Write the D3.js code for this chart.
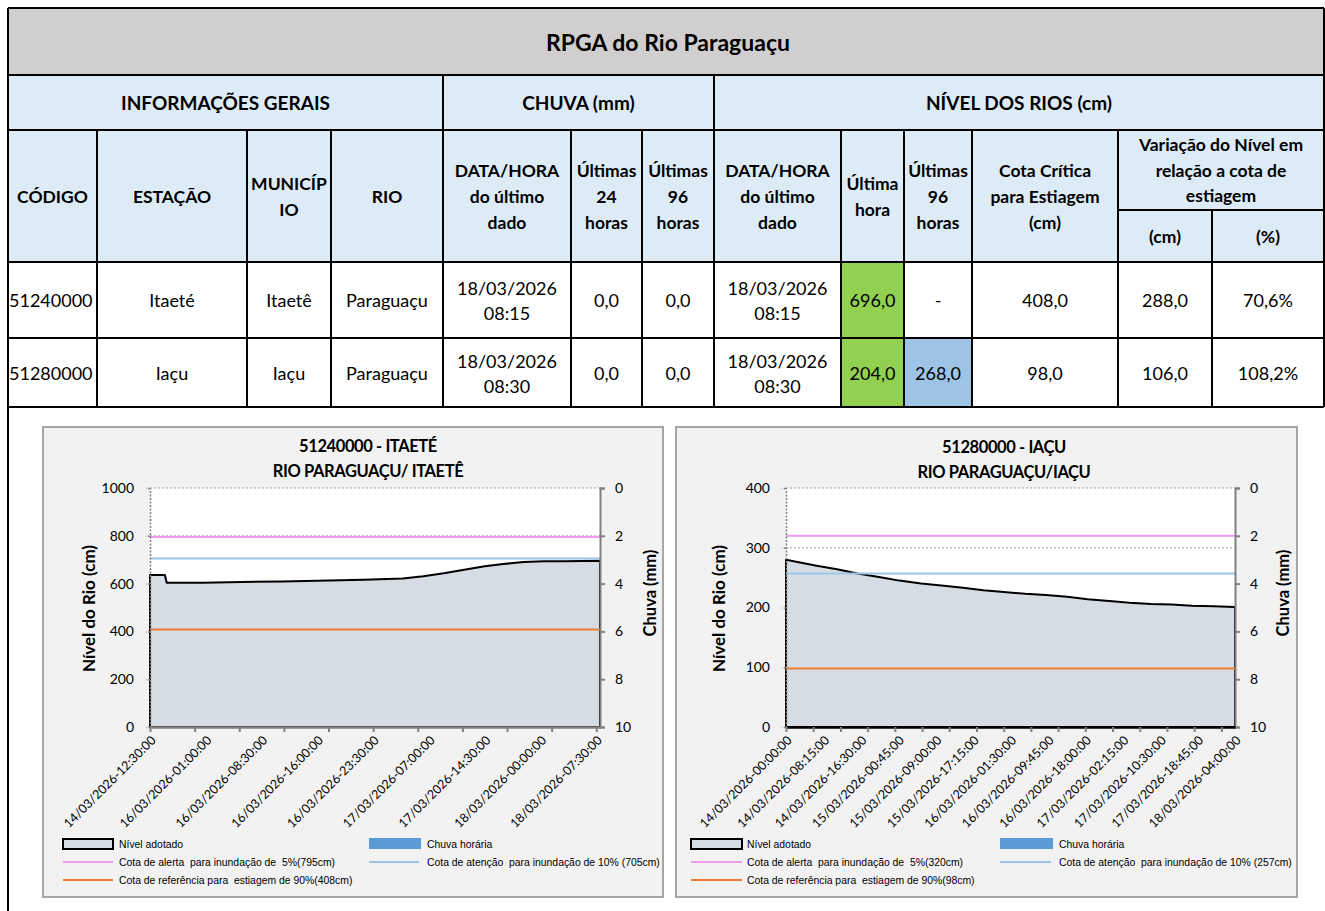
<!DOCTYPE html>
<html>
<head>
<meta charset="utf-8">
<script src="https://cdn.jsdelivr.net/npm/d3@7"></script>
<style>
  body { margin: 0; background: #fff; }
  text { font-family: Lato, "Open Sans", sans-serif; fill: #000; }
  .legend text { font-family: "Liberation Sans", Arial, sans-serif; }
</style>
</head>
<body>
<div id="chart"></div>
<script>
// ---- Table data ----
var tableTitle = "RPGA do Rio Paraguaçu";
var codigos = ["51240000", "51280000"];
var estacoes = ["Itaeté", "Iaçu"];
var municipios = ["Itaetê", "Iaçu"];
var rios = ["Paraguaçu", "Paraguaçu"];
var dataChuva = [["18/03/2026", "08:15"], ["18/03/2026", "08:30"]];
var chuva24 = ["0,0", "0,0"];
var chuva96 = ["0,0", "0,0"];
var dataNivel = [["18/03/2026", "08:15"], ["18/03/2026", "08:30"]];
var nivelUltima = ["696,0", "204,0"];
var nivel96 = ["-", "268,0"];
var cotaCritica = ["408,0", "98,0"];
var variacaoCm = ["288,0", "106,0"];
var variacaoPct = ["70,6%", "108,2%"];

// ---- Chart 1: 51240000 - Itaeté (category index -> nível cm) ----
var itaeteIdx   = [0, 8, 9, 28, 71, 115, 136, 147, 158, 169, 180, 190, 201, 212, 223, 242];
var itaeteNivel = [636, 636, 604, 604, 609, 616, 621, 631, 643, 658, 673, 682, 690, 693, 694, 696];
var itaeteLabels = ["14/03/2026-12:30:00", "16/03/2026-01:00:00", "16/03/2026-08:30:00",
  "16/03/2026-16:00:00", "16/03/2026-23:30:00", "17/03/2026-07:00:00", "17/03/2026-14:30:00",
  "18/03/2026-00:00:00", "18/03/2026-07:30:00"];
var itaeteCotas = [795, 705, 408];

// ---- Chart 2: 51280000 - Iaçu ----
var iacuIdx   = [0, 27, 45, 63, 82, 100, 119, 137, 156, 174, 192, 211, 229, 248, 266, 285, 303, 322, 340, 358, 377, 396];
var iacuNivel = [280, 270, 264, 257, 251, 245, 240, 237, 233, 229, 226, 223, 221, 218, 214, 211, 208, 206, 205, 203, 202, 201];
var iacuLabels = ["14/03/2026-00:00:00", "14/03/2026-08:15:00", "14/03/2026-16:30:00",
  "15/03/2026-00:45:00", "15/03/2026-09:00:00", "15/03/2026-17:15:00", "16/03/2026-01:30:00",
  "16/03/2026-09:45:00", "16/03/2026-18:00:00", "17/03/2026-02:15:00", "17/03/2026-10:30:00",
  "17/03/2026-18:45:00", "18/03/2026-04:00:00"];
var iacuCotas = [320, 257, 98];

var cotaColors = ["#f09bef", "#9dc3e6", "#ed7d31"];

var W = 1325, H = 911;
var svg = d3.select("#chart").append("svg").attr("width", W).attr("height", H);
svg.append("rect").attr("width", W).attr("height", H).attr("fill", "#fff");

// ---------------- Table ----------------
var colX = [8, 97, 247, 331, 443, 571, 642, 714, 841, 904, 972, 1118, 1212, 1324];
var rowY = [8, 75, 130, 262, 338, 407];
var tbl = svg.append("g");

tbl.append("rect").attr("x", 8).attr("y", 8).attr("width", 1316).attr("height", 67).attr("fill", "#d0cece");
tbl.append("rect").attr("x", 8).attr("y", 75).attr("width", 1316).attr("height", 187).attr("fill", "#ddebf7");
tbl.append("rect").attr("x", colX[8]).attr("y", rowY[3]).attr("width", colX[9] - colX[8]).attr("height", rowY[5] - rowY[3]).attr("fill", "#92d050");
tbl.append("rect").attr("x", colX[9]).attr("y", rowY[4]).attr("width", colX[10] - colX[9]).attr("height", rowY[5] - rowY[4]).attr("fill", "#9dc3e6");

function line(x1, y1, x2, y2) {
  tbl.append("line").attr("x1", x1).attr("y1", y1).attr("x2", x2).attr("y2", y2)
    .attr("stroke", "#000").attr("stroke-width", 2);
}
rowY.forEach(function (y) { line(8, y, 1324, y); });
line(colX[11], 210, 1324, 210);
line(8, 8, 8, 911);
line(1324, 8, 1324, 407);
line(443, 75, 443, 130);
line(714, 75, 714, 130);
colX.slice(1, -1).forEach(function (x) {
  line(x, x === 1212 ? 210 : 130, x, 407);
});

function label(txt, x, y, opts) {
  opts = opts || {};
  tbl.append("text").attr("x", x).attr("y", y)
    .attr("text-anchor", opts.anchor || "middle")
    .attr("dominant-baseline", "central")
    .attr("font-size", opts.size || 18)
    .attr("font-weight", opts.bold ? "bold" : "normal")
    .text(txt);
}
function lines(arr, x, yc, opts) {
  var step = (opts && opts.step) || 26;
  var y0 = yc - (arr.length - 1) * step / 2;
  arr.forEach(function (t, i) { label(t, x, y0 + i * step, opts); });
}
function mid(a, b) { return (colX[a] + colX[b]) / 2; }

label(tableTitle, 668, 42, { bold: true, size: 23 });
label("INFORMAÇÕES GERAIS", mid(0, 4), 102, { bold: true, size: 19 });
label("CHUVA (mm)", mid(4, 7), 102, { bold: true, size: 19 });
label("NÍVEL DOS RIOS (cm)", mid(7, 13), 102, { bold: true, size: 19 });

var hb = { bold: true, size: 17.5 };
lines(["CÓDIGO"], mid(0, 1), 196, hb);
lines(["ESTAÇÃO"], mid(1, 2), 196, hb);
lines(["MUNICÍP", "IO"], mid(2, 3), 196, hb);
lines(["RIO"], mid(3, 4), 196, hb);
lines(["DATA/HORA", "do último", "dado"], mid(4, 5), 196, hb);
lines(["Últimas", "24", "horas"], mid(5, 6), 196, hb);
lines(["Últimas", "96", "horas"], mid(6, 7), 196, hb);
lines(["DATA/HORA", "do último", "dado"], mid(7, 8), 196, hb);
lines(["Última", "hora"], mid(8, 9), 196, hb);
lines(["Últimas", "96", "horas"], mid(9, 10), 196, hb);
lines(["Cota Crítica", "para Estiagem", "(cm)"], mid(10, 11), 196, hb);
lines(["Variação do Nível em", "relação a cota de", "estiagem"], mid(11, 13), 170, { bold: true, size: 17.5, step: 25.5 });
lines(["(cm)"], mid(11, 12), 236, hb);
lines(["(%)"], mid(12, 13), 236, hb);

var rowMid = [300, 373];
var db = { size: 18 };
codigos.forEach(function (c, r) {
  var yc = rowMid[r];
  label(c, 9, yc, { size: 18, anchor: "start" });
  label(estacoes[r], mid(1, 2), yc, db);
  label(municipios[r], mid(2, 3), yc, db);
  label(rios[r], mid(3, 4), yc, db);
  lines(dataChuva[r], mid(4, 5), yc, { size: 18, step: 25 });
  label(chuva24[r], mid(5, 6), yc, db);
  label(chuva96[r], mid(6, 7), yc, db);
  lines(dataNivel[r], mid(7, 8), yc, { size: 18, step: 25 });
  label(nivelUltima[r], mid(8, 9), yc, db);
  label(nivel96[r], mid(9, 10), yc, db);
  label(cotaCritica[r], mid(10, 11), yc, db);
  label(variacaoCm[r], mid(11, 12), yc, db);
  label(variacaoPct[r], mid(12, 13), yc, db);
});

// ---------------- Charts ----------------
function drawChart(cfg) {
  var g = svg.append("g");
  var p = cfg.plot; // [left, right, top, bottom]

  g.append("rect").attr("x", cfg.panel[0]).attr("y", cfg.panel[1])
    .attr("width", cfg.panel[2]).attr("height", cfg.panel[3])
    .attr("fill", "#f2f2f2").attr("stroke", "#a6a6a6").attr("stroke-width", 2);
  g.append("rect").attr("x", p[0]).attr("y", p[2]).attr("width", p[1] - p[0]).attr("height", p[3] - p[2])
    .attr("fill", "#fff");

  var x = d3.scaleLinear().domain([0, cfg.nCat]).range([p[0], p[1]]);
  var y = d3.scaleLinear().domain([0, cfg.yMax]).range([p[3], p[2]]);
  var yR = d3.scaleLinear().domain([0, 10]).range([p[2], p[3]]);
  var yTicks = d3.range(0, cfg.yMax + 1, cfg.yStep);

  // titles
  cfg.title.forEach(function (t, i) {
    g.append("text").attr("x", cfg.titleX).attr("y", cfg.titleY[i]).attr("text-anchor", "middle")
      .attr("font-size", 16.5).attr("font-weight", "bold").attr("letter-spacing", -0.4).text(t);
  });

  // gridlines
  g.selectAll(".grid").data(yTicks.filter(function (d) { return d > 0; })).join("line")
    .attr("x1", p[0]).attr("x2", p[1]).attr("y1", function (d) { return y(d); }).attr("y2", function (d) { return y(d); })
    .attr("stroke", "#bfbfbf").attr("stroke-width", 1.5).attr("stroke-dasharray", "2,2");

  // area (nível adotado)
  var pts = cfg.idx.map(function (d, i) { return [d, cfg.nivel[i]]; });
  var area = d3.area().x(function (d) { return x(d[0]); }).y0(y(0)).y1(function (d) { return y(d[1]); });
  g.append("path").datum(pts).attr("d", area)
    .attr("fill", "#d6dce4").attr("stroke", "#000").attr("stroke-width", 2).attr("stroke-linejoin", "round");

  // cotas
  cfg.cotas.forEach(function (c, i) {
    g.append("line").attr("x1", p[0]).attr("x2", p[1]).attr("y1", y(c)).attr("y2", y(c))
      .attr("stroke", cotaColors[i]).attr("stroke-width", 2);
  });

  // left axis
  var ax = g.append("g").attr("transform", "translate(" + p[0] + ",0)")
    .call(d3.axisLeft(y).tickValues(yTicks).tickFormat(d3.format("d")).tickSize(4).tickSizeOuter(0).tickPadding(12));
  ax.selectAll("path,line").attr("stroke", "#808080").attr("stroke-width", 1.5).attr("stroke-dasharray", "2,1.5");
  ax.selectAll("text").attr("font-size", 14).attr("font-family", "Lato").attr("fill", "#000");

  // right axis (chuva)
  var ar = g.append("g").attr("transform", "translate(" + p[1] + ",0)")
    .call(d3.axisRight(yR).tickValues([0, 2, 4, 6, 8, 10]).tickSize(5).tickPadding(10));
  ar.selectAll("path,line").attr("stroke", "#808080").attr("stroke-width", 2);
  ar.selectAll("text").attr("font-size", 14).attr("font-family", "Lato").attr("fill", "#000");

  // bottom axis ticks
  var ab = g.append("g").attr("transform", "translate(0," + p[3] + ")")
    .call(d3.axisBottom(x).tickValues(d3.range(0, cfg.nCat + 1, 24)).tickFormat("").tickSize(5).tickSizeOuter(0));
  ab.selectAll("path").attr("stroke", cfg.bottomColor).attr("stroke-width", 2.5);
  ab.selectAll("line").attr("stroke", "#808080").attr("stroke-width", 2);

  // bottom axis labels (rotated)
  var labelIdx = cfg.labels.map(function (d, i) { return i * cfg.labelStep; });
  var al = g.append("g").attr("transform", "translate(0," + p[3] + ")")
    .call(d3.axisBottom(x).tickValues(labelIdx).tickSize(0)
      .tickFormat(function (d) { return cfg.labels[d / cfg.labelStep]; }));
  al.select(".domain").remove();
  al.selectAll("text").attr("font-size", 12.5).attr("font-family", "Lato").attr("fill", "#000")
    .attr("text-anchor", "end").attr("dy", "0.35em").attr("y", 0)
    .attr("transform", "translate(3,11) rotate(-45)");

  // axis titles
  g.append("text").attr("transform", "translate(" + cfg.yLabelX + "," + ((p[2] + p[3]) / 2 + 1) + ") rotate(-90)")
    .attr("text-anchor", "middle").attr("dominant-baseline", "central")
    .attr("font-size", 17).attr("font-weight", "bold").text("Nível do Rio  (cm)");
  g.append("text").attr("transform", "translate(" + cfg.rLabelX + ",593) rotate(-90)")
    .attr("text-anchor", "middle").attr("dominant-baseline", "central")
    .attr("font-size", 16.5).attr("font-weight", "bold").text("Chuva (mm)");

  // legend
  var lg = g.append("g").attr("class", "legend");
  var L = cfg.legend;
  var items = [
    { col: 0, row: 0, type: "area", text: "Nível adotado" },
    { col: 1, row: 0, type: "bar", text: "Chuva horária" },
    { col: 0, row: 1, type: "line", color: cotaColors[0], text: "Cota de alerta  para inundação de  5%(" + cfg.cotas[0] + "cm)" },
    { col: 1, row: 1, type: "line", color: cotaColors[1], text: "Cota de atenção  para inundação de 10% (" + cfg.cotas[1] + "cm)" },
    { col: 0, row: 2, type: "line", color: cotaColors[2], text: "Cota de referência para  estiagem de 90%(" + cfg.cotas[2] + "cm)" }
  ];
  var rowYs = [844, 862, 880];
  items.forEach(function (it) {
    var sx = L.swatchX[it.col], yy = rowYs[it.row];
    if (it.type === "area") {
      lg.append("rect").attr("x", sx).attr("y", yy - 5).attr("width", L.swatchW).attr("height", 10)
        .attr("fill", "#d6dce4").attr("stroke", "#000").attr("stroke-width", 2);
    } else if (it.type === "bar") {
      lg.append("rect").attr("x", sx).attr("y", yy - 6).attr("width", L.swatchW + 2).attr("height", 11)
        .attr("fill", "#5b9bd5");
    } else {
      lg.append("line").attr("x1", sx).attr("x2", sx + L.swatchW).attr("y1", yy).attr("y2", yy)
        .attr("stroke", it.color).attr("stroke-width", 2);
    }
    lg.append("text").attr("x", L.textX[it.col]).attr("y", yy).attr("dominant-baseline", "central")
      .attr("font-size", 10.4).attr("fill", "#000").attr("xml:space", "preserve").style("white-space", "pre")
      .text(it.text);
  });
}

drawChart({
  panel: [43, 427, 620, 470],
  plot: [150, 600, 488, 727],
  nCat: 242, yMax: 1000, yStep: 200, labelStep: 30,
  idx: itaeteIdx, nivel: itaeteNivel, labels: itaeteLabels, cotas: itaeteCotas,
  title: ["51240000 - ITAETÉ", "RIO PARAGUAÇU/ ITAETÊ"], titleX: 368, titleY: [452, 477],
  yLabelX: 88, rLabelX: 650, bottomColor: "#808080",
  legend: { swatchX: [63, 369], swatchW: 50, textX: [119, 427] }
});

drawChart({
  panel: [676, 427, 621, 470],
  plot: [786, 1235, 488, 727],
  nCat: 396, yMax: 400, yStep: 100, labelStep: 33,
  idx: iacuIdx, nivel: iacuNivel, labels: iacuLabels, cotas: iacuCotas,
  title: ["51280000 - IAÇU", "RIO PARAGUAÇU/IAÇU"], titleX: 1004, titleY: [453, 478],
  yLabelX: 718, rLabelX: 1283, bottomColor: "#000",
  legend: { swatchX: [691, 1000], swatchW: 51, textX: [747, 1059] }
});
</script>
</body>
</html>
